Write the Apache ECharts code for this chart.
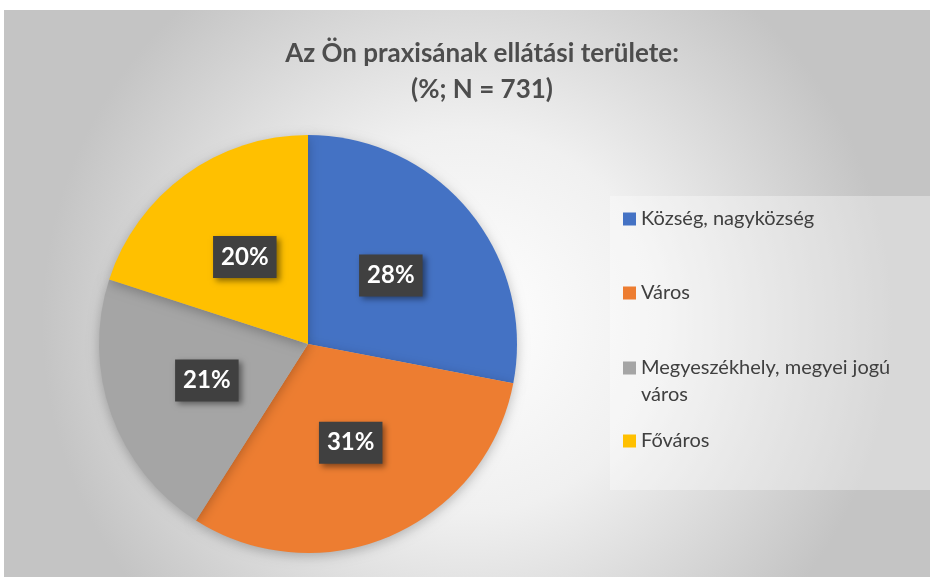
<!DOCTYPE html>
<html><head><meta charset="utf-8">
<script src="https://cdn.jsdelivr.net/npm/echarts@6/dist/echarts.min.js"></script>
<style>html,body{margin:0;padding:0;background:#fff}#c{width:936px;height:577px}</style>
</head><body><div id="c"></div>
<script>
const categories = ['Község, nagyközség', 'Város', 'Megyeszékhely, megyei jogú város', 'Főváros'];
const values = [28, 31, 21, 20];
const colors = ['#4472C4', '#ED7D31', '#A5A5A5', '#FFC000'];
const titleText = 'Az Ön praxisának ellátási területe:\n(%; N = 731)';

const FONT = 'Lato, "Open Sans", sans-serif';
const chart = echarts.init(document.getElementById('c'), null, {renderer: 'canvas'});

const legendTops = [205.5, 279.5, 327.5, 427.5];
const legends = categories.map((c, i) => {
  const wrap = c === 'Megyeszékhely, megyei jogú város';
  return {
    data: [c], orient: 'vertical', left: 623, top: legendTops[i], padding: 0,
    itemWidth: 13, itemHeight: 13, itemGap: 0, icon: 'rect',
    textStyle: {fontFamily: FONT, fontSize: 20, color: '#404040', lineHeight: 27},
    formatter: n => wrap ? ' \nMegyeszékhely, megyei jogú\nváros' : n,
    selectedMode: false
  };
});

chart.setOption({
  animation: false,
  graphic: [
    {type: 'rect', shape: {x: 4, y: 10, width: 926, height: 567}, z: -10,
     style: {fill: {type: 'radial', x: 0.5, y: 0.55, r: 0.75,
       colorStops: [{offset: 0, color: '#ffffff'}, {offset: 0.45, color: '#f0f0f0'}, {offset: 1, color: '#c4c4c4'}]}}},
    {type: 'rect', shape: {x: 610, y: 196, width: 320, height: 294}, z: -9,
     style: {fill: 'rgba(255,255,255,0.35)'}}
  ],
  title: {
    text: titleText, left: 477, top: 31, textAlign: 'center',
    textStyle: {fontFamily: FONT, fontSize: 26, fontWeight: 'bold', color: '#4d4d4d', lineHeight: 36}
  },
  legend: legends,
  series: [{
    type: 'pie', center: [308, 344], radius: 209, startAngle: 90, clockwise: true,
    color: colors,
    itemStyle: {shadowBlur: 12, shadowColor: 'rgba(0,0,0,0.25)', shadowOffsetY: 3},
    label: {
      position: 'inside', formatter: p => p.value + '%',
      fontFamily: FONT, fontSize: 24, fontWeight: 'bold', color: '#ffffff', lineHeight: 24,
      backgroundColor: '#404040', padding: [9, 8, 9, 8],
      shadowBlur: 6, shadowColor: 'rgba(0,0,0,0.45)', shadowOffsetX: 3, shadowOffsetY: 3
    },
    labelLine: {show: false},
    emphasis: {disabled: true},
    data: categories.map((c, i) => ({name: c, value: values[i]}))
  }]
});
</script></body></html>
